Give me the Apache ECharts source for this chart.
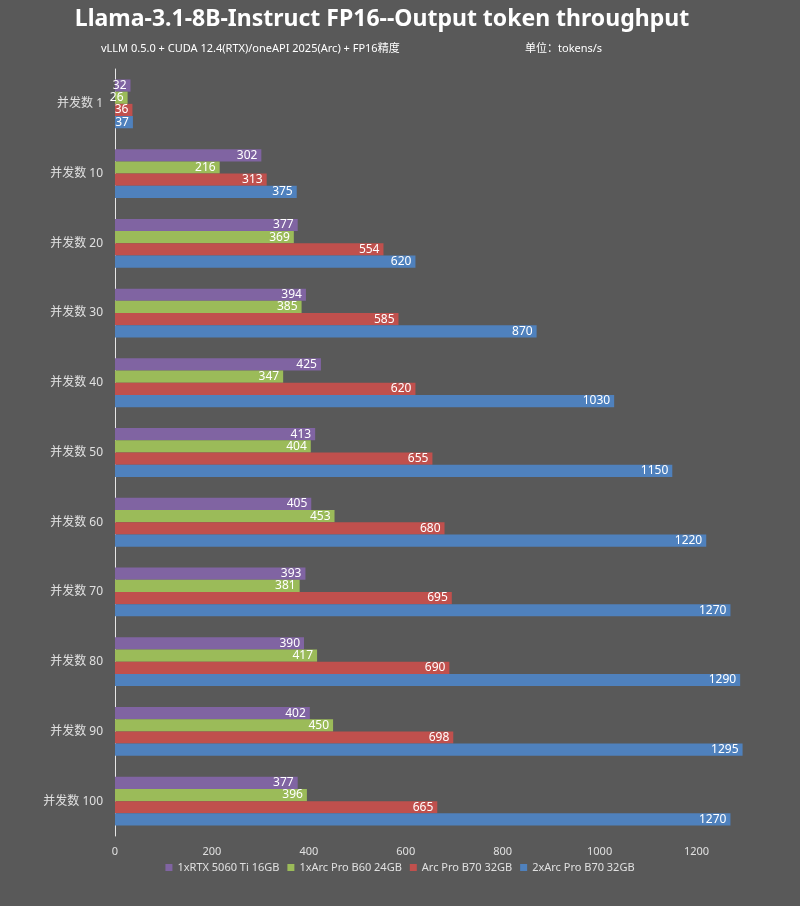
<!DOCTYPE html>
<html>
<head>
<meta charset="utf-8">
<script src="https://cdn.jsdelivr.net/npm/echarts@6/dist/echarts.min.js"></script>
<style>
  html, body { margin: 0; padding: 0; background: #595959; }
  #chart { width: 800px; height: 906px; }
</style>
</head>
<body>
<div id="chart"></div>
<script>
const categories = ['并发数 1', '并发数 10', '并发数 20', '并发数 30', '并发数 40', '并发数 50',
  '并发数 60', '并发数 70', '并发数 80', '并发数 90', '并发数 100']
const seriesNames = ['1xRTX 5060 Ti 16GB', '1xArc Pro B60 24GB', 'Arc Pro B70 32GB', '2xArc Pro B70 32GB']
const rtx5060 = [32, 302, 377, 394, 425, 413, 405, 393, 390, 402, 377]
const arcB60 = [26, 216, 369, 385, 347, 404, 453, 381, 417, 450, 396]
const arcB70 = [36, 313, 554, 585, 620, 655, 680, 695, 690, 698, 665]
const arcB70x2 = [37, 375, 620, 870, 1030, 1150, 1220, 1270, 1290, 1295, 1270]
const colors = ['#8064A2', '#9BBB59', '#C0504D', '#4F81BD']

const chart = echarts.init(document.getElementById('chart'))
const font = '"Noto Sans", "Noto Sans CJK SC", sans-serif'

function makeSeries(name, data, i) {
  return {
    name: name,
    type: 'bar',
    data: data,
    barGap: '0%',
    barCategoryGap: '30%',
    itemStyle: { color: colors[i] },
    label: {
      show: true,
      position: 'insideRight',
      color: '#ffffff',
      fontSize: 12,
      fontFamily: font,
      distance: 4
    }
  }
}

const option = {
  backgroundColor: '#595959',
  textStyle: { fontFamily: font },
  title: [
    {
      text: 'Llama-3.1-8B-Instruct FP16--Output token throughput',
      left: 377,
      top: 3,
      textAlign: 'center',
      textStyle: { color: '#ffffff', fontSize: 23, fontWeight: 'bold', fontFamily: font }
    },
    {
      text: 'vLLM 0.5.0 + CUDA 12.4(RTX)/oneAPI 2025(Arc) + FP16精度',
      left: 96,
      top: 38,
      textStyle: { color: '#ffffff', fontSize: 11, fontWeight: 'normal', fontFamily: font }
    },
    {
      text: '单位：tokens/s',
      left: 520,
      top: 38,
      textStyle: { color: '#ffffff', fontSize: 11, fontWeight: 'normal', fontFamily: font }
    }
  ],
  legend: {
    data: seriesNames,
    bottom: 28,
    left: 'center',
    itemWidth: 7,
    itemHeight: 7,
    itemGap: 8,
    icon: 'rect',
    textStyle: { color: '#e0e0e0', fontSize: 11, fontFamily: font }
  },
  grid: { left: 115, right: 55, top: 69, bottom: 70 },
  xAxis: {
    type: 'value',
    min: 0,
    max: 1300,
    interval: 200,
    splitLine: { show: false },
    axisLine: { show: false },
    axisTick: { show: false },
    axisLabel: {
      color: '#e0e0e0',
      fontSize: 11,
      showMaxLabel: false,
      margin: 10,
      formatter: function (v) { return String(v) }
    }
  },
  yAxis: {
    type: 'category',
    data: categories,
    inverse: true,
    axisLine: { show: true, lineStyle: { color: '#e6e6e6', width: 1 } },
    axisTick: { show: false },
    axisLabel: { color: '#e0e0e0', fontSize: 12, margin: 12 }
  },
  series: [
    makeSeries(seriesNames[0], rtx5060, 0),
    makeSeries(seriesNames[1], arcB60, 1),
    makeSeries(seriesNames[2], arcB70, 2),
    makeSeries(seriesNames[3], arcB70x2, 3)
  ]
}
chart.setOption(option)
</script>
</body>
</html>
